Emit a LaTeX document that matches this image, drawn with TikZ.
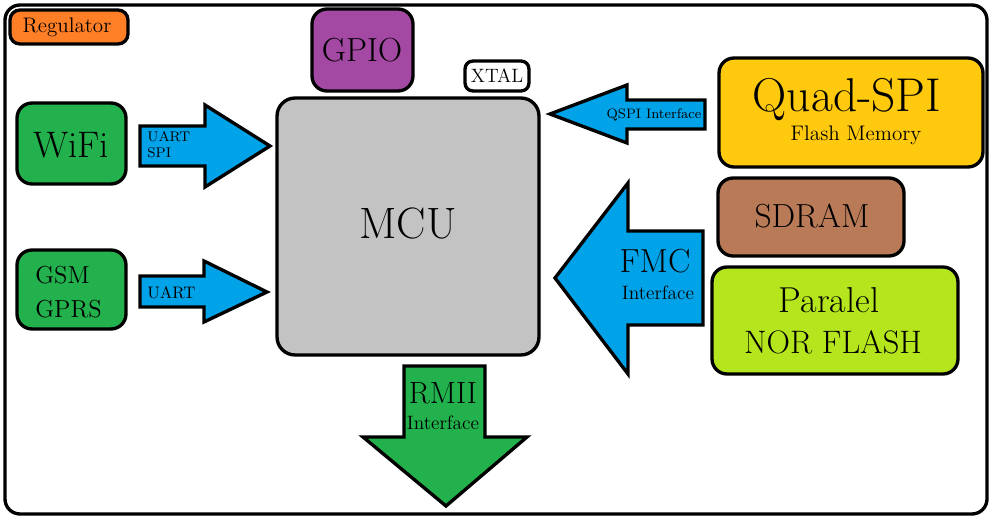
\documentclass[tikz,border=0pt]{standalone}
\usepackage{xcolor}
\definecolor{regorange}{RGB}{255,127,39}
\definecolor{gpiopurple}{RGB}{163,73,164}
\definecolor{mcugray}{RGB}{195,195,195}
\definecolor{modgreen}{RGB}{34,177,76}
\definecolor{busblue}{RGB}{0,162,232}
\definecolor{qspiyellow}{RGB}{255,201,14}
\definecolor{sdrambrown}{RGB}{185,122,87}
\definecolor{norlime}{RGB}{181,230,29}
\newcommand{\fsz}[1]{\fontsize{#1}{#1}\selectfont}

\begin{document}
\begin{tikzpicture}[x=0.02cm,y=-0.02cm,
		box/.style={draw,line width=1.9pt,rounded corners=0.3cm,inner sep=0pt},
		bus/.style={draw,line width=1.9pt,line join=miter},
		txt/.style={anchor=base,inner sep=0pt}]
		\useasboundingbox (0,0) rectangle (992,517);
		
		% board outline
		\draw[line width=1.9pt,rounded corners=0.3cm] (5,5) rectangle (987,514);
		
		% blocks
		\node[box,rounded corners=0.2cm,fill=regorange,minimum width=2.36cm,minimum height=0.68cm] (regulator) at (69,27) {};
		\node[box,fill=gpiopurple,minimum width=2.02cm,minimum height=1.64cm] (gpio) at (362.5,50) {};
		\node[box,rounded corners=0.16cm,fill=white,minimum width=1.28cm,minimum height=0.6cm] (xtal) at (497,76) {};
		\node[box,rounded corners=0.36cm,fill=mcugray,minimum width=5.24cm,minimum height=5.14cm] (mcu) at (408,226.5) {};
		\node[box,fill=modgreen,minimum width=2.18cm,minimum height=1.62cm] (wifi) at (71.5,143.5) {};
		\node[box,fill=modgreen,minimum width=2.18cm,minimum height=1.58cm] (gsm) at (71.5,289.5) {};
		\node[box,fill=qspiyellow,minimum width=5.28cm,minimum height=2.18cm] (qspi) at (851,112.5) {};
		\node[box,fill=sdrambrown,minimum width=3.72cm,minimum height=1.56cm] (sdram) at (811,217) {};
		\node[box,fill=norlime,minimum width=4.92cm,minimum height=2.14cm] (nor) at (835,320.5) {};
		
		% bus arrows
		\draw[bus,fill=busblue] (140,126) -- (205,126) -- (205,105) -- (270,146) -- (205,187) -- (205,166) -- (140,166) -- cycle;
		\draw[bus,fill=busblue] (140,276) -- (204,276) -- (204,261) -- (267,292) -- (204,322) -- (204,307) -- (140,307) -- cycle;
		\draw[bus,fill=busblue] (705,100) -- (627,100) -- (627,85) -- (550,114) -- (627,143) -- (627,129) -- (705,129) -- cycle;
		\draw[bus,fill=busblue] (703,231) -- (628,231) -- (628,183) -- (555,278) -- (628,374) -- (628,325) -- (703,325) -- cycle;
		\draw[bus,fill=modgreen] (404,366) -- (485,366) -- (485,437) -- (527,437) -- (446,506) -- (363,437) -- (404,437) -- cycle;
		
		% texts
		\node[txt] (regulatorname) at (67,33) {\fsz{12}Regulator};
		\node[txt] (gpioname) at (362,62) {\fsz{19}GPIO};
		\node[txt] (xtalname) at (497,83) {\fsz{11}XTAL};
		\node[txt] (mcuname) at (408,239) {\fsz{25}MCU};
		\node[txt] (wifiname) at (71,158) {\fsz{21}WiFi};
		\node[txt,anchor=base west] (gsmname) at (35,284) {\fsz{14}GSM};
		\node[txt,anchor=base west] (gprsname) at (35,317) {\fsz{14}GPRS};
		\node[txt] (qspiname) at (847,112) {\fsz{27}Quad-SPI};
		\node[txt] (qspimem) at (856,141) {\fsz{12}Flash Memory};
		\node[txt] (sdramname) at (812,228) {\fsz{19}SDRAM};
		\node[txt] (norname) at (829,313) {\fsz{20.5}Paralel};
		\node[txt] (norflash) at (833,354) {\fsz{18.5}NOR FLASH};
		\node[txt,anchor=base west] (wifibus) at (147,142) {\fsz{8}UART};
		\node[txt,anchor=base west] (wifibus2) at (147,158) {\fsz{8}SPI};
		\node[txt,anchor=base west] (gsmbus) at (147,298) {\fsz{9.5}UART};
		\node[txt] (qspibus) at (654,119) {\fsz{7.8}QSPI Interface};
		\node[txt] (fmcbus) at (655,273) {\fsz{19}FMC};
		\node[txt] (fmcbus2) at (658,299) {\fsz{11}Interface};
		\node[txt] (rmiibus) at (443,403) {\fsz{17.5}RMII};
		\node[txt] (rmiibus2) at (443,429) {\fsz{11}Interface};
	\end{tikzpicture}
\end{document}
